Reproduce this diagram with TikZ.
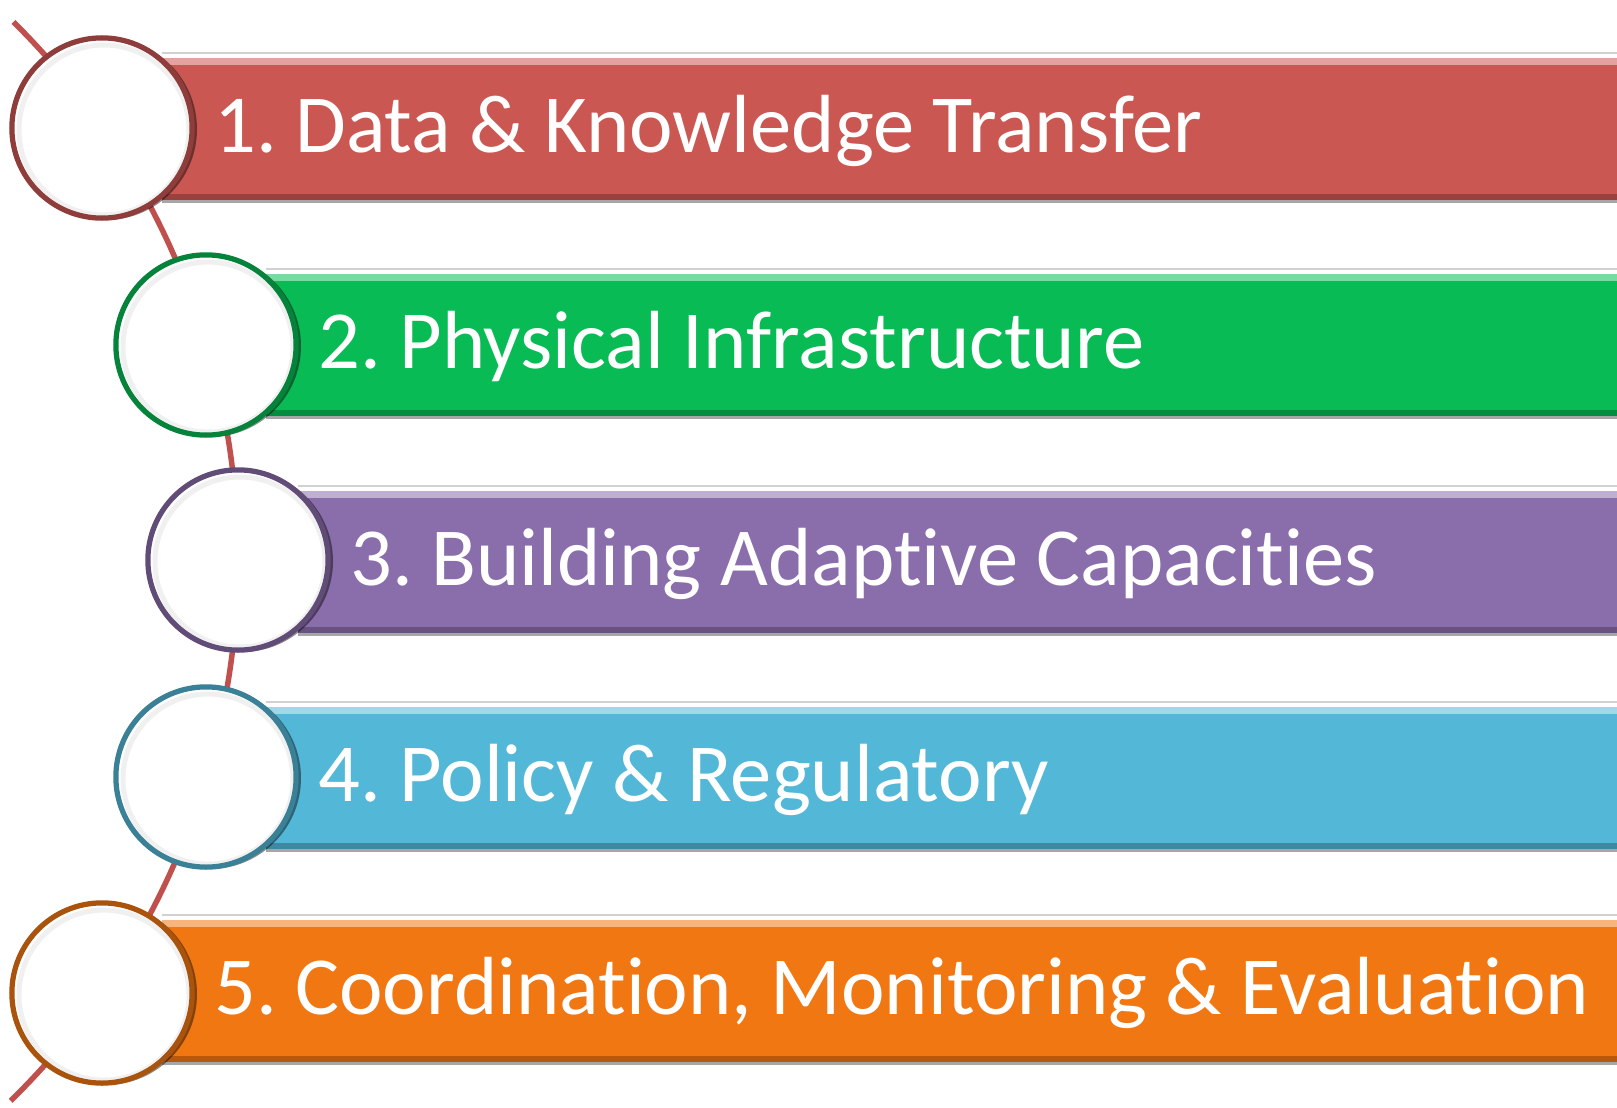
\documentclass[tikz,border=0pt]{standalone}
\usepackage{fontspec}
\setmainfont{Carlito}[Ligatures={NoCommon}]
\usetikzlibrary{shadows}
\definecolor{cRed}{RGB}{203,87,83}
\definecolor{cGreen}{RGB}{8,187,85}
\definecolor{cPurple}{RGB}{138,109,171}
\definecolor{cBlue}{RGB}{83,183,215}
\definecolor{cOrange}{RGB}{241,119,18}
\definecolor{arcRed}{RGB}{192,80,77}
\tikzset{
  barbox/.style={rectangle, draw=none, minimum height=142pt, inner sep=0pt, anchor=west},
  ballnode/.style={circle, minimum size=182pt, inner sep=0pt, line width=3.5pt, fill=white,
     drop shadow={shadow xshift=4pt, shadow yshift=-1pt, opacity=0.45, fill=black}},
  ballrim/.style={draw=black!6, line width=5pt},
  bartext/.style={text=white, font=\fontsize{82.5}{92}\selectfont\frenchspacing, anchor=base west, inner sep=0pt},
  arcline/.style={draw=arcRed, line width=5.5pt}
}
\newcommand{\mkbar}[5]{% name, cx, cy, colour, text
  \node[barbox, fill=#4, minimum width={1557-#2}] (b#1) at ({#2+60},#3) {};
  \fill[#4!55!white] (b#1.north west) rectangle ([yshift=-7pt]b#1.north east);
  \fill[#4!75!black] ([yshift=6pt]b#1.south west) rectangle (b#1.south east);
  \draw[black!18, line width=2pt] ([yshift=5pt]b#1.north west) -- ([yshift=5pt]b#1.north east);
  \draw[black!35, line width=2.5pt] ([yshift=-1.5pt]b#1.south west) -- ([yshift=-1.5pt]b#1.south east);
  \node[bartext] (t#1) at ({#2+112},{#3+23}) {#5};
}
\newcommand{\mkball}[4]{% name, cx, cy, colour
  \node[ballnode, draw=#4!70!black] (c#1) at (#2,#3) {};
  \draw[ballrim] ([xshift=2pt,yshift=-2pt]c#1.center) circle[radius=85];
  \draw[#4!70!black, line width=3.5pt] (c#1.center) circle[radius=89.25];
}
\begin{document}
\begin{tikzpicture}[x=1pt,y=-1pt]
\useasboundingbox (0,0) rectangle (1617,1108);
\coordinate (arcC) at (-519,560);
\draw[arcline] (arcC) ++(-45.3:757) arc[start angle=-45.3, end angle=45.6, radius=757];
\mkbar{1}{102}{129}{cRed}{1. Data \& Knowledge Transfer}
\mkbar{2}{206}{345}{cGreen}{2. Physical Infrastructure}
\mkbar{3}{238}{562}{cPurple}{3. Building Adaptive Capacities}
\mkbar{4}{206}{778}{cBlue}{4. Policy \& Regulatory}
\mkbar{5}{102}{991}{cOrange}{5. Coordination, Monitoring \& Evaluation}
\mkball{1}{102}{128}{cRed}
\mkball{2}{206}{345}{cGreen}
\mkball{3}{238}{560}{cPurple}
\mkball{4}{206}{777}{cBlue}
\mkball{5}{102}{993}{cOrange}
\end{tikzpicture}
\end{document}
